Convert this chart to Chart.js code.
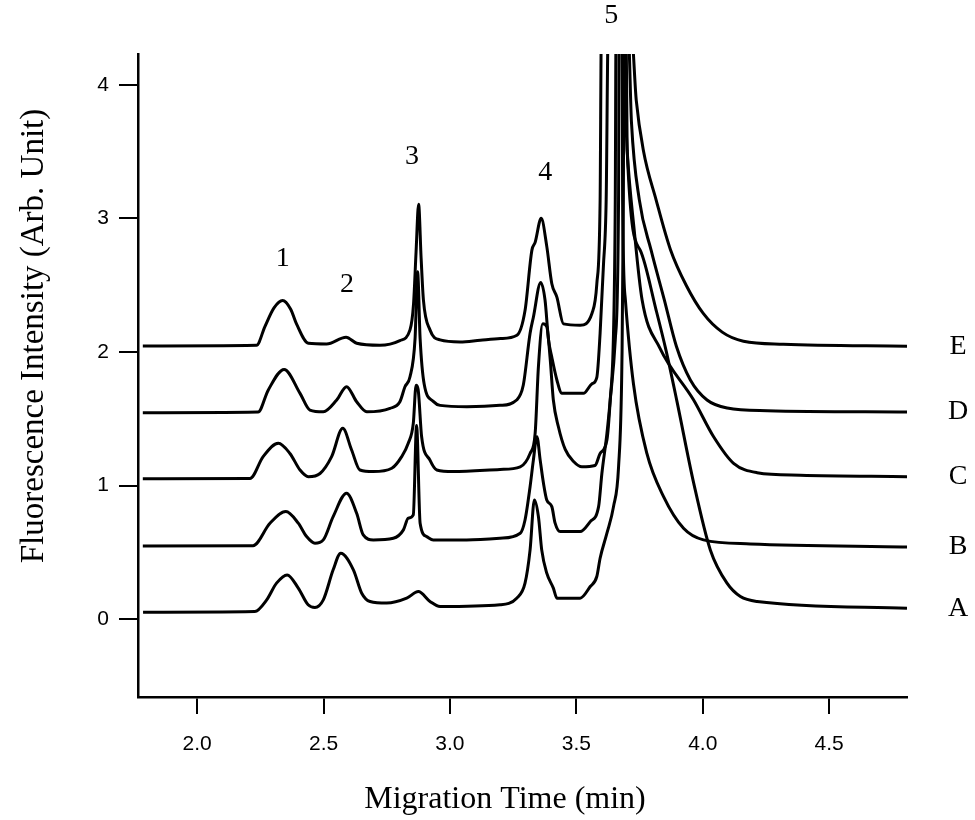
<!DOCTYPE html>
<html>
<head>
<meta charset="utf-8">
<script src="https://cdn.jsdelivr.net/npm/chart.js@4.4.0/dist/chart.umd.min.js"></script>
<style>
  html, body { margin: 0; padding: 0; background: #fff; }
</style>
</head>
<body>
<canvas id="electropherogram" width="975" height="820"></canvas>
<script>
// Migration time (min) and fluorescence intensity for each run
var timeA = [1.786, 2.228, 2.275, 2.314, 2.356, 2.400, 2.439, 2.466, 2.499, 2.538, 2.568, 2.618, 2.651, 2.684, 2.750, 2.829, 2.875, 2.921, 2.961, 3.198, 3.264, 3.297, 3.317, 3.334, 3.350, 3.363, 3.383, 3.409, 3.423, 3.515, 3.555, 3.581, 3.594, 3.621, 3.647, 3.667, 3.680, 3.686, 3.688, 3.697, 3.701, 3.753, 3.816, 3.855, 3.898, 3.964, 4.030, 4.096, 4.149, 4.215, 4.808];
var signalA = [0.052, 0.057, 0.144, 0.269, 0.331, 0.232, 0.107, 0.087, 0.144, 0.369, 0.493, 0.369, 0.194, 0.132, 0.120, 0.157, 0.206, 0.132, 0.094, 0.107, 0.157, 0.269, 0.518, 0.892, 0.767, 0.518, 0.344, 0.232, 0.157, 0.157, 0.244, 0.319, 0.456, 0.643, 0.842, 1.140, 1.890, 3.140, 4.400, 4.400, 3.510, 2.760, 2.310, 2.010, 1.630, 1.020, 0.518, 0.269, 0.169, 0.132, 0.082];

var timeB = [1.785, 2.221, 2.288, 2.351, 2.400, 2.433, 2.466, 2.499, 2.538, 2.591, 2.631, 2.657, 2.697, 2.776, 2.816, 2.835, 2.855, 2.868, 2.882, 2.908, 2.934, 3.066, 3.198, 3.278, 3.297, 3.317, 3.330, 3.344, 3.357, 3.370, 3.383, 3.403, 3.416, 3.436, 3.515, 3.555, 3.588, 3.601, 3.621, 3.634, 3.654, 3.667, 3.669, 3.681, 3.683, 3.694, 3.726, 3.779, 3.845, 3.924, 4.003, 4.188, 4.810];
var signalB = [0.548, 0.550, 0.718, 0.805, 0.718, 0.618, 0.568, 0.593, 0.767, 0.942, 0.792, 0.630, 0.593, 0.605, 0.668, 0.755, 0.780, 1.450, 0.718, 0.618, 0.593, 0.593, 0.605, 0.643, 0.742, 0.991, 1.190, 1.365, 1.190, 1.017, 0.892, 0.842, 0.718, 0.655, 0.655, 0.730, 0.842, 1.090, 1.390, 1.640, 2.090, 3.140, 4.400, 4.400, 3.140, 2.390, 1.760, 1.240, 0.917, 0.680, 0.593, 0.563, 0.540];

var timeC = [1.785, 2.209, 2.261, 2.321, 2.367, 2.407, 2.440, 2.486, 2.532, 2.576, 2.611, 2.644, 2.697, 2.770, 2.809, 2.835, 2.855, 2.866, 2.874, 2.888, 2.921, 2.948, 3.013, 3.198, 3.278, 3.317, 3.337, 3.350, 3.367, 3.383, 3.396, 3.409, 3.429, 3.456, 3.489, 3.522, 3.574, 3.594, 3.621, 3.634, 3.647, 3.654, 3.657, 3.680, 3.701, 3.729, 3.760, 3.830, 3.964, 4.043, 4.122, 4.215, 4.386, 4.808];
var signalC = [1.050, 1.052, 1.216, 1.316, 1.240, 1.116, 1.066, 1.090, 1.216, 1.428, 1.266, 1.116, 1.104, 1.129, 1.216, 1.316, 1.465, 1.750, 1.720, 1.365, 1.190, 1.116, 1.104, 1.120, 1.140, 1.240, 1.390, 1.890, 2.210, 2.190, 1.960, 1.640, 1.440, 1.270, 1.180, 1.140, 1.150, 1.240, 1.340, 1.640, 2.140, 3.140, 4.400, 4.400, 3.510, 2.910, 2.390, 2.030, 1.640, 1.365, 1.166, 1.096, 1.077, 1.066];

var timeD = [1.785, 2.241, 2.281, 2.344, 2.407, 2.446, 2.499, 2.552, 2.591, 2.631, 2.671, 2.763, 2.802, 2.822, 2.842, 2.862, 2.872, 2.882, 2.898, 2.934, 2.961, 3.067, 3.198, 3.264, 3.290, 3.317, 3.330, 3.359, 3.376, 3.390, 3.403, 3.423, 3.443, 3.528, 3.561, 3.581, 3.594, 3.607, 3.618, 3.626, 3.705, 3.718, 3.749, 3.796, 3.848, 3.896, 3.951, 4.017, 4.097, 4.255, 4.810];
var signalD = [1.545, 1.550, 1.714, 1.869, 1.690, 1.565, 1.552, 1.640, 1.740, 1.627, 1.552, 1.578, 1.627, 1.739, 1.814, 2.100, 2.600, 2.100, 1.760, 1.630, 1.600, 1.590, 1.600, 1.640, 1.750, 2.140, 2.260, 2.520, 2.390, 2.090, 1.960, 1.790, 1.690, 1.690, 1.760, 1.810, 2.140, 2.640, 3.140, 4.400, 4.400, 3.720, 3.140, 2.760, 2.390, 2.040, 1.790, 1.640, 1.580, 1.560, 1.550];

var timeE = [1.785, 2.235, 2.268, 2.304, 2.338, 2.370, 2.393, 2.440, 2.512, 2.589, 2.631, 2.723, 2.802, 2.842, 2.856, 2.866, 2.876, 2.886, 2.895, 2.921, 2.961, 3.040, 3.120, 3.200, 3.265, 3.297, 3.324, 3.337, 3.361, 3.383, 3.403, 3.423, 3.449, 3.515, 3.562, 3.581, 3.594, 3.599, 3.717, 3.737, 3.765, 3.816, 3.872, 3.935, 4.002, 4.077, 4.161, 4.319, 4.810];
var signalE = [2.045, 2.050, 2.190, 2.330, 2.385, 2.320, 2.210, 2.065, 2.060, 2.110, 2.065, 2.050, 2.085, 2.165, 2.360, 2.750, 3.105, 2.700, 2.390, 2.165, 2.090, 2.075, 2.088, 2.100, 2.125, 2.310, 2.760, 2.820, 3.000, 2.790, 2.510, 2.410, 2.210, 2.200, 2.290, 2.510, 3.130, 4.400, 4.400, 3.883, 3.510, 3.135, 2.767, 2.497, 2.288, 2.148, 2.080, 2.058, 2.043];

var traceNames = ['A', 'B', 'C', 'D', 'E'];
var peakNumbers = ['1', '2', '3', '4', '5'];
var peakNumberTimes = [2.339, 2.593, 2.850, 3.377, 3.638];
var peakNumberHeights = [2.70, 2.50, 3.46, 3.34, 4.52];
var xTicks = [2.0, 2.5, 3.0, 3.5, 4.0, 4.5];
var yTicks = [0, 1, 2, 3, 4];

var traceTimes = [timeA, timeB, timeC, timeD, timeE];
var traceSignals = [signalA, signalB, signalC, signalD, signalE];

// Build the datasets from the arrays
var datasets = traceNames.map(function (name, i) {
    return {
        label: name,
        data: traceTimes[i].map(function (t, j) { return { x: t, y: traceSignals[i][j] }; }),
        borderColor: '#000',
        borderWidth: 3,
        pointRadius: 0,
        fill: false,
        cubicInterpolationMode: 'monotone'
    };
});

// Peak numbers, run letters and axis titles
var labelPlugin = {
    id: 'labelPlugin',
    afterDraw: function (chart) {
        var ctx = chart.ctx;
        var xs = chart.scales.x;
        var ys = chart.scales.y;
        ctx.save();
        ctx.fillStyle = '#000';
        ctx.textAlign = 'center';
        ctx.textBaseline = 'middle';
        ctx.font = '28px "Liberation Serif"';
        peakNumbers.forEach(function (n, i) {
            ctx.fillText(n, xs.getPixelForValue(peakNumberTimes[i]), ys.getPixelForValue(peakNumberHeights[i]));
        });
        traceNames.forEach(function (name, i) {
            var s = traceSignals[i];
            ctx.fillText(name, chart.chartArea.right + 51, ys.getPixelForValue(s[s.length - 1]));
        });
        ctx.font = '32px "Liberation Serif"';
        ctx.fillText('Migration Time (min)', 505, 800);
        ctx.font = '33px "Liberation Serif"';
        ctx.translate(34, 336);
        ctx.rotate(-Math.PI / 2);
        ctx.fillText('Fluorescence Intensity (Arb. Unit)', 0, 0);
        ctx.restore();
    }
};

var ctx = document.getElementById('electropherogram').getContext('2d');
var chart = new Chart(ctx, {
    type: 'line',
    data: { datasets: datasets },
    plugins: [labelPlugin],
    options: {
        responsive: false,
        animation: false,
        layout: { padding: { top: 54, right: 68, left: 0, bottom: 0 } },
        plugins: {
            legend: { display: false },
            tooltip: { enabled: false }
        },
        scales: {
            x: {
                type: 'linear',
                min: 1.766,
                max: 4.808,
                afterBuildTicks: function (scale) {
                    scale.ticks = xTicks.map(function (v) { return { value: v }; });
                },
                afterFit: function (scale) { scale.height = 123; },
                ticks: {
                    callback: function (v) { return v.toFixed(1); },
                    font: { family: 'Liberation Sans', size: 21 },
                    color: '#000',
                    padding: 18,
                    maxRotation: 0
                },
                grid: { display: true, drawOnChartArea: false, drawTicks: true, tickLength: 17, color: '#000', lineWidth: 2 },
                border: { display: true, color: '#000', width: 2.5 }
            },
            y: {
                min: -0.583,
                max: 4.23,
                afterBuildTicks: function (scale) {
                    scale.ticks = yTicks.map(function (v) { return { value: v }; });
                },
                afterFit: function (scale) { scale.width = 138; },
                ticks: {
                    font: { family: 'Liberation Sans', size: 21 },
                    color: '#000',
                    padding: 10
                },
                grid: { display: true, drawOnChartArea: false, drawTicks: true, tickLength: 19, color: '#000', lineWidth: 2 },
                border: { display: true, color: '#000', width: 2.5 }
            }
        }
    }
});
</script>
</body>
</html>
